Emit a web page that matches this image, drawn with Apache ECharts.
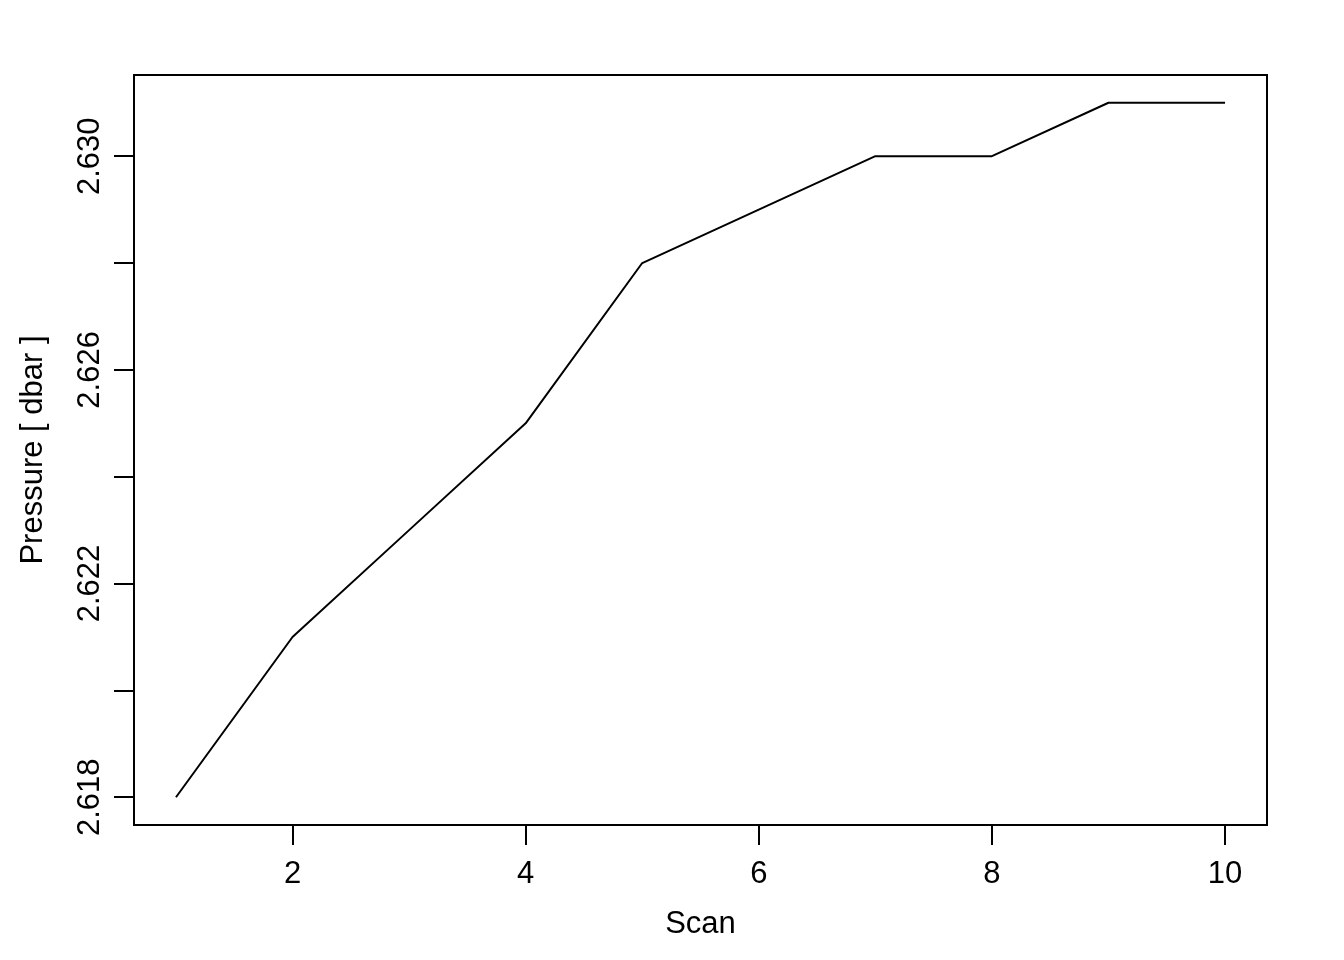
<!DOCTYPE html>
<html>
<head>
<meta charset="utf-8">
<script src="https://cdn.jsdelivr.net/npm/echarts@6/dist/echarts.min.js"></script>
<style>html,body{margin:0;padding:0;background:#fff;}#c{width:1344px;height:960px;}</style>
</head>
<body>
<div id="c"></div>
<script>
const scans = [1, 2, 3, 4, 5, 6, 7, 8, 9, 10];
const pressure = [2.618, 2.621, 2.623, 2.625, 2.628, 2.629, 2.630, 2.630, 2.631, 2.631];
const xTicks = [2, 4, 6, 8, 10];
const yTicks = [2.618, 2.620, 2.622, 2.624, 2.626, 2.628, 2.630];
const yLabels = [2.618, 2.622, 2.626, 2.630];
const xTitle = 'Scan';
const yTitle = 'Pressure [ dbar ]';

const FONT = 'Liberation Sans';
const FS = 31;
const xMin = 1 - 0.04 * 9, xMax = 10 + 0.04 * 9;
const yr = 2.631 - 2.618;
const yMin = 2.618 - 0.04 * yr, yMax = 2.631 + 0.04 * yr;

const chart = echarts.init(document.getElementById('c'), null, {renderer: 'canvas'});
chart.setOption({
  animation: false,
  backgroundColor: '#ffffff',
  grid: {left: 134, right: 77, top: 75, bottom: 135, show: true, borderColor: '#000', borderWidth: 2, backgroundColor: 'transparent'},
  xAxis: {
    type: 'value', min: xMin, max: xMax,
    name: xTitle, nameLocation: 'middle', nameGap: 84,
    nameTextStyle: {fontFamily: FONT, fontSize: FS, color: '#000'},
    axisLine: {show: false},
    splitLine: {show: false},
    axisTick: {show: true, length: 20, lineStyle: {color: '#000', width: 2}, customValues: xTicks},
    axisLabel: {show: true, margin: 34, fontFamily: FONT, fontSize: FS, color: '#000', customValues: xTicks, formatter: v => String(v)}
  },
  yAxis: {
    type: 'value', min: yMin, max: yMax,
    name: yTitle, nameLocation: 'middle', nameGap: 85, nameRotate: 90,
    nameTextStyle: {fontFamily: FONT, fontSize: FS, color: '#000'},
    axisLine: {show: false},
    splitLine: {show: false},
    axisTick: {show: true, length: 20, lineStyle: {color: '#000', width: 2}, customValues: yTicks},
    axisLabel: {show: true, rotate: 90, margin: 28, fontFamily: FONT, fontSize: FS, color: '#000', customValues: yLabels, formatter: v => v.toFixed(3)}
  },
  series: [{
    type: 'line',
    data: scans.map((s, i) => [s, pressure[i]]),
    showSymbol: false,
    symbol: 'none',
    lineStyle: {color: '#000', width: 2},
    silent: true
  }]
});
</script>
</body>
</html>
